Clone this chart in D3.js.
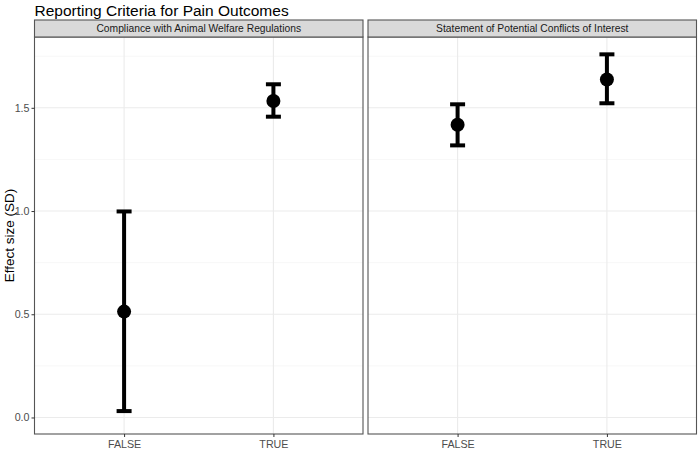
<!DOCTYPE html>
<html>
<head>
<meta charset="utf-8">
<script src="https://cdn.jsdelivr.net/npm/d3@7"></script>
<style>
  body { margin: 0; background: #fff; }
  text { font-family: "Liberation Sans", Arial, sans-serif; }
</style>
</head>
<body>
<div id="chart"></div>
<script>
//  Data
var panels = ["Compliance with Animal Welfare Regulations", "Statement of Potential Conflicts of Interest"];
var groups = ["FALSE", "TRUE"];
var estimates = [[0.513, 1.533], [1.418, 1.637]];
var lowers    = [[0.031, 1.457], [1.318, 1.522]];
var uppers    = [[0.998, 1.614], [1.517, 1.759]];
var yTicks = [0.0, 0.5, 1.0, 1.5];
var yMinor = [0.25, 0.75, 1.25, 1.75];

var width = 700, height = 450;
var panelLeft = [34.5, 368];
var panelWidth = 328.5;
var stripTop = 20, stripH = 17;
var panelTop = stripTop + stripH, panelBottom = 434;

var svg = d3.select("#chart").append("svg")
  .attr("width", width)
  .attr("height", height);

var y = d3.scaleLinear()
  .domain([-0.08, 1.843])
  .range([panelBottom, panelTop]);

// Title
svg.append("text")
  .attr("x", 34.5)
  .attr("y", 15.5)
  .style("font-size", "15.5px")
  .style("fill", "#000")
  .text("Reporting Criteria for Pain Outcomes");

// Y axis label
svg.append("text")
  .attr("transform", "translate(14," + ((panelTop + panelBottom) / 2) + ") rotate(-90)")
  .attr("text-anchor", "middle")
  .style("font-size", "13.5px")
  .style("fill", "#000")
  .text("Effect size (SD)");

panels.forEach(function(name, p) {
  var x = d3.scalePoint()
    .domain(groups)
    .range([panelLeft[p], panelLeft[p] + panelWidth])
    .padding(0.6);

  var g = svg.append("g");

  // Panel background
  g.append("rect")
    .attr("x", panelLeft[p]).attr("y", panelTop)
    .attr("width", panelWidth).attr("height", panelBottom - panelTop)
    .style("fill", "#fff");

  // Minor grid
  g.selectAll(".minor").data(yMinor).enter().append("line")
    .attr("x1", panelLeft[p]).attr("x2", panelLeft[p] + panelWidth)
    .attr("y1", function(d) { return y(d); }).attr("y2", function(d) { return y(d); })
    .style("stroke", "#f2f2f2").style("stroke-width", 0.6);

  // Major grid
  g.selectAll(".major").data(yTicks).enter().append("line")
    .attr("x1", panelLeft[p]).attr("x2", panelLeft[p] + panelWidth)
    .attr("y1", function(d) { return y(d); }).attr("y2", function(d) { return y(d); })
    .style("stroke", "#ebebeb").style("stroke-width", 1.1);

  g.selectAll(".vgrid").data(groups).enter().append("line")
    .attr("x1", function(d) { return x(d); }).attr("x2", function(d) { return x(d); })
    .attr("y1", panelTop).attr("y2", panelBottom)
    .style("stroke", "#ebebeb").style("stroke-width", 1.1);

  // Error bars
  var cap = 7.5;
  groups.forEach(function(gr, i) {
    var cx = x(gr);
    g.append("line")
      .attr("x1", cx).attr("x2", cx)
      .attr("y1", y(lowers[p][i])).attr("y2", y(uppers[p][i]))
      .style("stroke", "#000").style("stroke-width", 4);
    g.append("line")
      .attr("x1", cx - cap).attr("x2", cx + cap)
      .attr("y1", y(uppers[p][i])).attr("y2", y(uppers[p][i]))
      .style("stroke", "#000").style("stroke-width", 4);
    g.append("line")
      .attr("x1", cx - cap).attr("x2", cx + cap)
      .attr("y1", y(lowers[p][i])).attr("y2", y(lowers[p][i]))
      .style("stroke", "#000").style("stroke-width", 4);
    g.append("circle")
      .attr("cx", cx).attr("cy", y(estimates[p][i]))
      .attr("r", 7)
      .style("fill", "#000");
  });

  // Panel border
  g.append("rect")
    .attr("x", panelLeft[p]).attr("y", panelTop)
    .attr("width", panelWidth).attr("height", panelBottom - panelTop)
    .style("fill", "none").style("stroke", "#555").style("stroke-width", 1.1);

  // Strip
  g.append("rect")
    .attr("x", panelLeft[p]).attr("y", stripTop)
    .attr("width", panelWidth).attr("height", stripH)
    .style("fill", "#d9d9d9").style("stroke", "#555").style("stroke-width", 1.1);
  g.append("text")
    .attr("x", panelLeft[p] + panelWidth / 2)
    .attr("y", stripTop + stripH / 2 + 3.5)
    .attr("text-anchor", "middle")
    .style("font-size", "10.3px")
    .style("fill", "#1a1a1a")
    .text(name);

  // X axis
  var xAxis = g.append("g")
    .attr("transform", "translate(0," + panelBottom + ")")
    .call(d3.axisBottom(x).tickSize(3).tickPadding(3));
  xAxis.select(".domain").remove();
  xAxis.selectAll("line").style("stroke", "#333");
  xAxis.selectAll("text").style("font-size", "10.7px").style("fill", "#4d4d4d")
    .style("font-family", "Liberation Sans, Arial, sans-serif");

  // Y axis (left panel only)
  if (p === 0) {
    var yAxis = g.append("g")
      .attr("transform", "translate(" + panelLeft[p] + ",0)")
      .call(d3.axisLeft(y).tickValues(yTicks).tickFormat(d3.format(".1f")).tickSize(3).tickPadding(2));
    yAxis.select(".domain").remove();
    yAxis.selectAll("line").style("stroke", "#333");
    yAxis.selectAll("text").style("font-size", "10.7px").style("fill", "#4d4d4d")
      .style("font-family", "Liberation Sans, Arial, sans-serif");
  }
});
</script>
</body>
</html>
